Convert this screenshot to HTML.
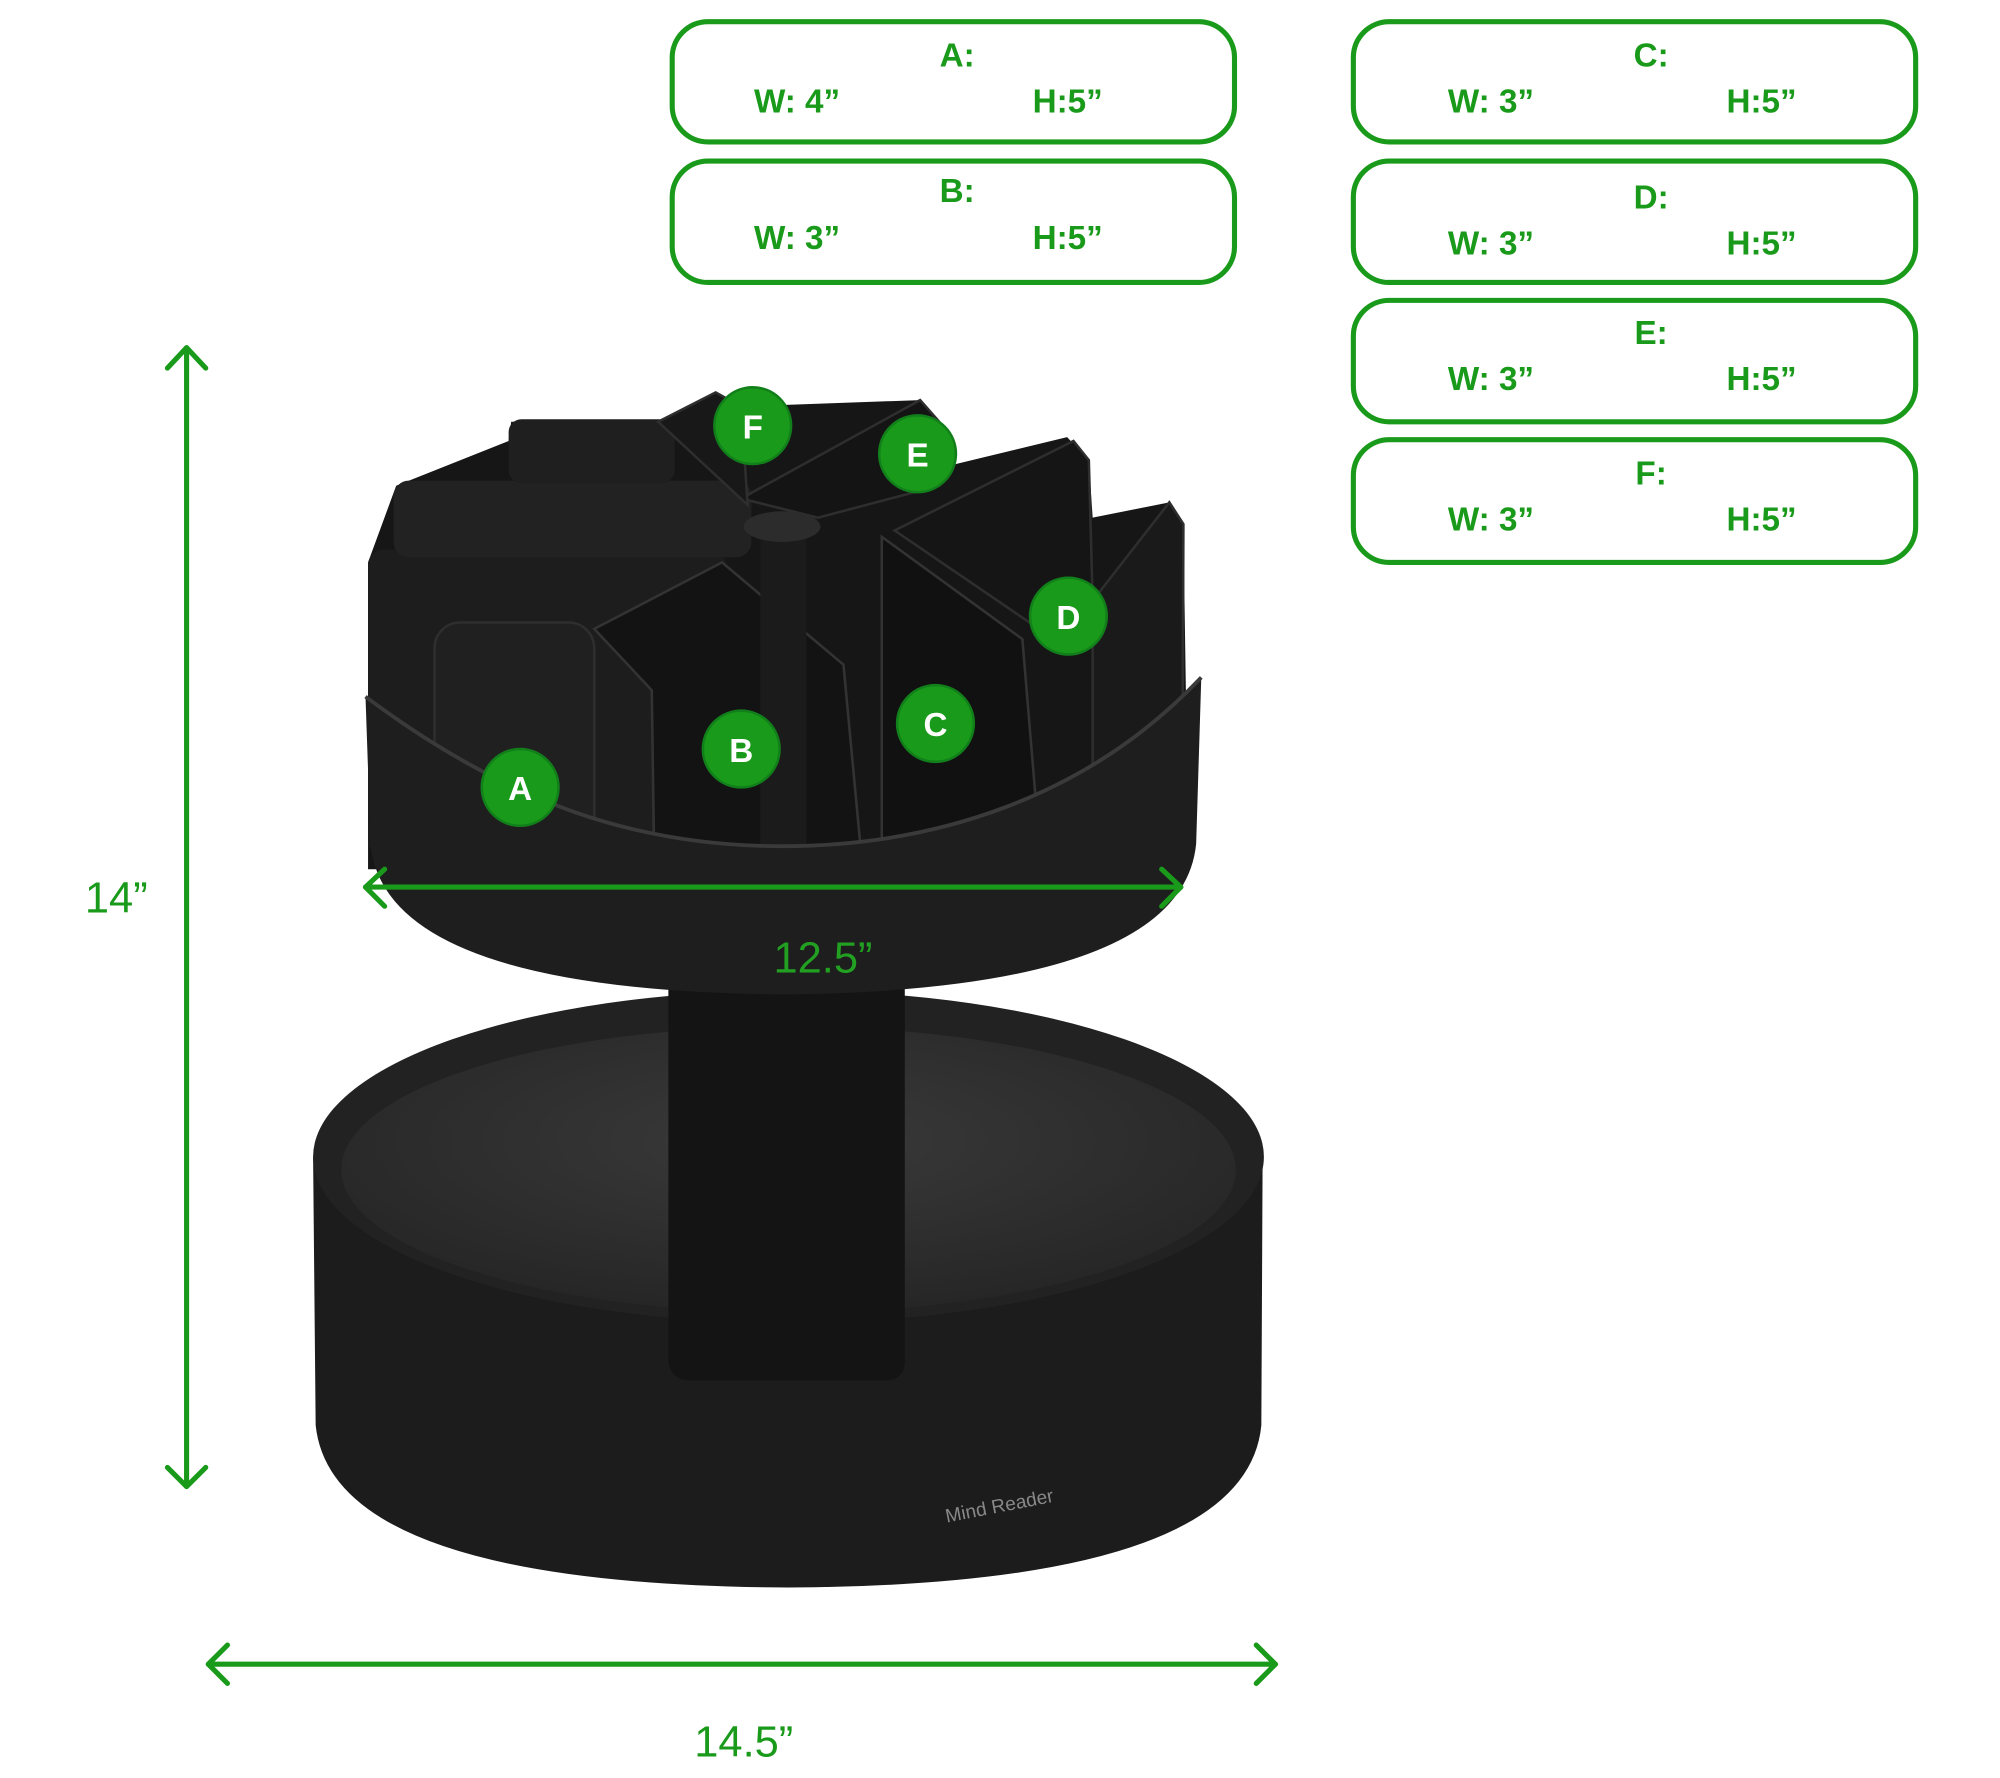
<!DOCTYPE html>
<html><head><meta charset="utf-8"><style>html,body{margin:0;padding:0;background:#fff}svg{display:block}</style></head>
<body>
<svg width="2000" height="1778" viewBox="0 0 1565 1391" preserveAspectRatio="none" xmlns="http://www.w3.org/2000/svg" font-family="'Liberation Sans', sans-serif">
<defs>
<radialGradient id="floor" cx="0.5" cy="0.4" r="0.6"><stop offset="0" stop-color="#3a3a3a"/><stop offset="1" stop-color="#262626"/></radialGradient>
</defs>
<g fill="none" stroke="#1a9a1a" stroke-width="4">
<rect x="526" y="17" width="440" height="94" rx="28"/>
<rect x="526" y="126" width="440" height="95" rx="28"/>
<rect x="1059" y="17" width="440" height="94" rx="28"/>
<rect x="1059" y="126" width="440" height="95" rx="28"/>
<rect x="1059" y="235" width="440" height="95" rx="28"/>
<rect x="1059" y="344" width="440" height="96" rx="28"/>
</g>
<g fill="#1a9a1a" font-size="26" font-weight="bold">
<text x="749" y="52" text-anchor="middle">A:</text><text x="590" y="88">W: 4”</text><text x="808" y="88">H:5”</text>
<text x="749" y="158" text-anchor="middle">B:</text><text x="590" y="195">W: 3”</text><text x="808" y="195">H:5”</text>
<text x="1292" y="52" text-anchor="middle">C:</text><text x="1133" y="88">W: 3”</text><text x="1351" y="88">H:5”</text>
<text x="1292" y="163" text-anchor="middle">D:</text><text x="1133" y="199">W: 3”</text><text x="1351" y="199">H:5”</text>
<text x="1292" y="269" text-anchor="middle">E:</text><text x="1133" y="305">W: 3”</text><text x="1351" y="305">H:5”</text>
<text x="1292" y="379" text-anchor="middle">F:</text><text x="1133" y="415">W: 3”</text><text x="1351" y="415">H:5”</text>
</g>
<!-- base -->
<path d="M245,905 L247,1115 Q260,1240 617,1242 Q975,1240 987,1115 L988,905 Z" fill="#1c1c1c"/>
<ellipse cx="617" cy="905" rx="372" ry="130" fill="#222"/>
<ellipse cx="617" cy="915" rx="350" ry="112" fill="url(#floor)"/>
<text x="783" y="1183" fill="#888" font-size="15" transform="rotate(-11 783 1183)" text-anchor="middle">Mind Reader</text>
<!-- post -->
<path d="M523,760 L523,1065 Q525,1080 540,1080 L692,1080 Q708,1080 708,1065 L708,760 Z" fill="#141414"/>
<!-- dividers -->
<path d="M288,440 L310,380 L398,345 L400,330 L520,330 L560,307 L580,318 L720,313 L735,330 L740,365 L835,342 L852,360 L855,405 L915,393 L926,410 L930,680 L288,680 Z" fill="#161616"/>
<rect x="288" y="430" width="280" height="240" rx="12" fill="#1d1d1d"/>
<rect x="308" y="376" width="280" height="60" rx="12" fill="#222"/>
<rect x="398" y="328" width="130" height="50" rx="10" fill="#1f1f1f"/>
<rect x="340" y="487" width="125" height="190" rx="20" fill="#202020" stroke="#2e2e2e" stroke-width="2"/>
<path d="M465,492 L565,440 L660,520 L675,680 L512,680 L510,540 Z" fill="#131313" stroke="#333" stroke-width="2"/>
<path d="M690,420 L800,500 L815,680 L690,680 Z" fill="#111" stroke="#333" stroke-width="2"/>
<path d="M700,415 L840,345 L852,360 L855,470 L810,490 Z" fill="#151515" stroke="#2e2e2e" stroke-width="2"/>
<path d="M855,470 L915,393 L926,410 L925,680 L855,680 Z" fill="#1a1a1a" stroke="#2e2e2e" stroke-width="2"/>
<path d="M580,390 L720,313 L735,330 L735,380 L640,405 Z" fill="#141414" stroke="#2e2e2e" stroke-width="2"/>
<path d="M515,330 L560,307 L580,318 L585,395 Z" fill="#181818" stroke="#2e2e2e" stroke-width="2"/>
<rect x="595" y="412" width="36" height="270" fill="#1b1b1b"/>
<ellipse cx="612" cy="412" rx="30" ry="12" fill="#2c2c2c"/>
<!-- top tray front -->
<path d="M286,545 C400,630 500,662 612,662 C730,662 850,625 940,530 L936,660 Q925,775 612,778 Q300,775 290,660 Z" fill="#1e1e1e"/>
<path d="M286,545 C400,630 500,662 612,662 C730,662 850,625 940,530" fill="none" stroke="#3a3a3a" stroke-width="3"/>
<!-- circles -->
<g fill="#1a9a1a" stroke="#12801a" stroke-width="2">
<circle cx="407" cy="616" r="30"/><circle cx="580" cy="586" r="30"/><circle cx="732" cy="566" r="30"/>
<circle cx="836" cy="482" r="30"/><circle cx="718" cy="355" r="30"/><circle cx="589" cy="333" r="30"/>
</g>
<g fill="#fff" font-size="26" font-weight="bold" text-anchor="middle">
<text x="407" y="626">A</text><text x="580" y="596">B</text><text x="732" y="576">C</text>
<text x="836" y="492">D</text><text x="718" y="365">E</text><text x="589" y="343">F</text>
</g>
<!-- arrows -->
<g fill="none" stroke="#1a9a1a" stroke-width="4" stroke-linecap="round" stroke-linejoin="round">
<line x1="146" y1="272" x2="146" y2="1163"/>
<polyline points="131,288 146,272 161,288"/><polyline points="131,1148 146,1163 161,1148"/>
<line x1="286" y1="694" x2="924" y2="694"/>
<polyline points="301,680 286,694 301,709"/><polyline points="909,680 924,694 909,709"/>
<line x1="163" y1="1302" x2="998" y2="1302"/>
<polyline points="178,1287 163,1302 178,1317"/><polyline points="983,1287 998,1302 983,1317"/>
</g>
<g fill="#1a9a1a" font-size="34">
<text x="91" y="714" text-anchor="middle">14”</text>
<text x="644" y="761" text-anchor="middle" fill="#22a022">12.5”</text>
<text x="582" y="1374" text-anchor="middle">14.5”</text>
</g>
</svg>
</body></html>
